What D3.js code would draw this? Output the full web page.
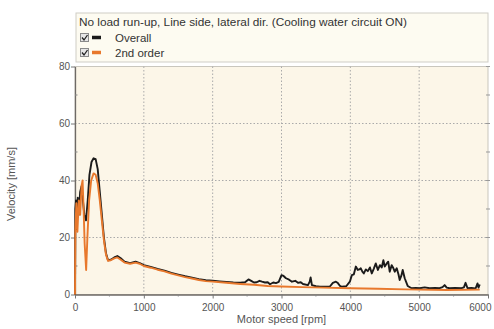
<!DOCTYPE html>
<html>
<head>
<meta charset="utf-8">
<script src="https://cdn.jsdelivr.net/npm/d3@7"></script>
<style>
  body { margin: 0; background: #fff; }
  svg { display: block; font-family: "Liberation Sans", Arial, sans-serif; }
</style>
</head>
<body>
<svg id="chart" width="494" height="329"></svg>
<script>
// Chart data
const legendTitle = "No load run-up, Line side, lateral dir. (Cooling water circuit ON)";
const seriesNames = ["Overall", "2nd order"];
const seriesColors = ["#1b1b1b", "#e8782c"];
const xTicks = [0, 1000, 2000, 3000, 4000, 5000, 6000];
const yTicks = [0, 20, 40, 60, 80];

// Overall: [rpm, mm/s]
const overall = [
  [0, 0], [5, 30], [15, 33], [25, 23], [40, 34], [55, 28], [75, 36], [95, 38], [115, 33],
  [135, 28], [160, 26], [185, 33], [210, 42], [240, 46.5], [270, 47.8], [300, 47.5],
  [330, 44], [360, 36], [390, 28], [420, 20], [450, 14.5], [480, 12], [520, 12.2],
  [570, 13], [615, 13.5], [660, 12.8], [720, 11.5], [800, 11], [880, 11.5], [940, 11],
  [1000, 10.3], [1100, 9.7], [1200, 9], [1300, 8.4], [1400, 7.6], [1500, 7], [1600, 6.4],
  [1700, 5.9], [1800, 5.4], [1900, 5], [2000, 4.8], [2100, 4.6], [2200, 4.4], [2300, 4.2],
  [2400, 4.1], [2470, 4.3], [2520, 5.3], [2560, 4.8], [2600, 4.2], [2640, 4.3], [2680, 4.8],
  [2717, 4.5], [2760, 4.2], [2800, 4.3], [2833, 3.6], [2880, 4.2], [2920, 4], [2960, 4.4],
  [3000, 6.8], [3030, 6.5], [3065, 5.7], [3110, 5.2], [3152, 4.5], [3200, 4.8], [3239, 4.1],
  [3280, 4.3], [3312, 3.7], [3384, 3.3], [3410, 4.5], [3423, 6.0], [3442, 3.3], [3500, 2.9],
  [3558, 2.7], [3650, 2.7], [3703, 2.8], [3746, 4.1], [3790, 4.5], [3819, 4.0], [3850, 3.0],
  [3877, 2.7], [3940, 2.9], [3993, 4.5], [4022, 6.8], [4051, 7.1], [4080, 9.8], [4109, 8.6],
  [4130, 8.8], [4152, 9.2], [4175, 8.0], [4196, 7.4], [4225, 8.8], [4254, 8.2], [4285, 9.5],
  [4312, 7.4], [4340, 9], [4370, 10.9], [4400, 8.6], [4430, 10.3], [4456, 9.5], [4480, 12],
  [4500, 9.8], [4529, 10.9], [4550, 11.5], [4572, 8], [4601, 10.3], [4620, 9.5], [4645, 8],
  [4674, 9.2], [4700, 7], [4717, 5.1], [4740, 6.5], [4761, 8.6], [4790, 5.7], [4833, 3.0],
  [4891, 2.2], [4950, 2.3], [5007, 2.2], [5080, 2.5], [5152, 2.2], [5230, 2.3], [5297, 2.2],
  [5340, 2.6], [5370, 3.3], [5400, 2.4], [5442, 2.2], [5520, 2.3], [5616, 2.2], [5650, 2.5],
  [5674, 4.1], [5703, 2.2], [5760, 2.3], [5819, 2.1], [5848, 3.9], [5862, 2.4], [5880, 3.5]
];

// 2nd order: [rpm, mm/s]
const order2 = [
  [0, 0], [5, 23], [20, 32], [35, 22], [55, 33], [75, 28], [95, 38], [110, 40], [125, 30],
  [140, 18], [162, 8.6], [180, 20], [205, 33], [235, 40], [270, 42.5], [300, 42], [330, 39],
  [360, 33], [390, 26], [420, 19], [450, 14], [480, 11.8], [520, 12], [570, 12.7], [615, 13],
  [660, 12.3], [720, 11.2], [800, 10.8], [880, 11.2], [940, 10.8], [1000, 10], [1100, 9.4],
  [1200, 8.7], [1300, 8.1], [1400, 7.3], [1500, 6.7], [1600, 6.1], [1700, 5.6], [1800, 5.1],
  [1900, 4.7], [2000, 4.5], [2200, 4.1], [2400, 3.7], [2600, 3.4], [2800, 3.0], [3000, 2.8],
  [3300, 2.6], [3600, 2.4], [4000, 2.2], [4400, 2.0], [4800, 1.8], [5000, 1.7], [5400, 1.6],
  [5880, 1.7]
];

const svg = d3.select("#chart");
const plotLeft = 75, plotRight = 488, plotTop = 66.5, plotBottom = 294.5;

const x = d3.scaleLinear().domain([0, 6000]).range([plotLeft, plotRight]);
const y = d3.scaleLinear().domain([0, 80]).range([plotBottom, plotTop]);

// Plot background
svg.append("rect")
  .attr("x", plotLeft).attr("y", plotTop)
  .attr("width", plotRight - plotLeft).attr("height", plotBottom - plotTop)
  .attr("fill", "#fcf6e8")
  .attr("stroke", "#c9c6bd");

// Grid lines (dotted)
svg.append("g")
  .selectAll("line")
  .data(xTicks.slice(1, -1))
  .join("line")
  .attr("x1", d => x(d)).attr("x2", d => x(d))
  .attr("y1", plotTop).attr("y2", plotBottom)
  .attr("stroke", "#aaa")
  .attr("stroke-dasharray", "1.5,2");

svg.append("g")
  .selectAll("line")
  .data(yTicks.slice(1, -1))
  .join("line")
  .attr("x1", plotLeft).attr("x2", plotRight)
  .attr("y1", d => y(d)).attr("y2", d => y(d))
  .attr("stroke", "#aaa")
  .attr("stroke-dasharray", "1.5,2");

// Axes
const xAxis = svg.append("g")
  .attr("transform", `translate(0,${plotBottom})`)
  .call(d3.axisBottom(x).tickValues(xTicks).tickSize(4).tickSizeOuter(0).tickFormat(d3.format("d")));
const yAxis = svg.append("g")
  .attr("transform", `translate(${plotLeft},0)`)
  .call(d3.axisLeft(y).tickValues(yTicks).tickSize(4).tickSizeOuter(0));

[xAxis, yAxis].forEach(a => {
  a.select(".domain").attr("stroke", "#6e6a66").attr("stroke-width", 1.3);
  a.selectAll(".tick line").attr("stroke", "#777");
  a.selectAll(".tick text").attr("fill", "#555").style("font-size", "10px");
});
xAxis.selectAll(".tick text").attr("dy", "0.95em");
// last label kept inside the picture, as in the original
xAxis.selectAll(".tick text").filter(d => d === 6000)
  .attr("text-anchor", "end").attr("x", 3);
yAxis.selectAll(".tick text").attr("x", -5);

// Minor ticks
svg.append("g")
  .selectAll("line")
  .data(d3.range(500, 6000, 1000))
  .join("line")
  .attr("x1", d => x(d)).attr("x2", d => x(d))
  .attr("y1", plotBottom).attr("y2", plotBottom + 2)
  .attr("stroke", "#888");
svg.append("g")
  .selectAll("line")
  .data(d3.range(10, 80, 20))
  .join("line")
  .attr("x1", plotLeft).attr("x2", plotLeft + 2.5)
  .attr("y1", d => y(d)).attr("y2", d => y(d))
  .attr("stroke", "#888");
svg.append("g")
  .selectAll("line")
  .data(d3.range(10, 81, 10))
  .join("line")
  .attr("x1", plotRight - 2).attr("x2", plotRight + 2)
  .attr("y1", d => y(d)).attr("y2", d => y(d))
  .attr("stroke", "#999");

// Lines
const line = d3.line().x(d => x(d[0])).y(d => y(d[1]));
svg.append("path")
  .datum(overall)
  .attr("fill", "none")
  .attr("stroke", seriesColors[0])
  .attr("stroke-width", 1.9)
  .attr("stroke-linejoin", "round")
  .attr("d", line);
svg.append("path")
  .datum(order2)
  .attr("fill", "none")
  .attr("stroke", seriesColors[1])
  .attr("stroke-width", 1.9)
  .attr("stroke-linejoin", "round")
  .attr("d", line);

// Axis titles
svg.append("text")
  .attr("x", (plotLeft + plotRight) / 2).attr("y", 323)
  .attr("text-anchor", "middle")
  .attr("fill", "#555")
  .style("font-size", "11px")
  .text("Motor speed [rpm]");
svg.append("text")
  .attr("transform", "translate(15,184) rotate(-90)")
  .attr("text-anchor", "middle")
  .attr("fill", "#555")
  .style("font-size", "11px")
  .text("Velocity [mm/s]");

// Legend box
const legend = svg.append("g");
legend.append("rect")
  .attr("x", 76).attr("y", 13)
  .attr("width", 412).attr("height", 49)
  .attr("fill", "#fdfbf1")
  .attr("stroke", "#cfcdc6");
legend.append("text")
  .attr("x", 79).attr("y", 26)
  .attr("fill", "#333")
  .style("font-size", "11.8px")
  .text(legendTitle);

const rows = legend.selectAll("g.row")
  .data(seriesNames)
  .join("g")
  .attr("class", "row")
  .attr("transform", (d, i) => `translate(0,${37.5 + i * 15})`);
rows.append("rect")
  .attr("x", 80.5).attr("y", -4)
  .attr("width", 8).attr("height", 8)
  .attr("fill", "#e6e6e6")
  .attr("stroke", "#8a8a8a");
rows.append("path")
  .attr("d", "M82,0 L84,2.5 L87.5,-2.5")
  .attr("fill", "none")
  .attr("stroke", "#222")
  .attr("stroke-width", 1.3);
rows.append("line")
  .attr("x1", 92).attr("x2", 101)
  .attr("stroke", (d, i) => seriesColors[i])
  .attr("stroke-width", 3.5);
rows.append("text")
  .attr("x", 115).attr("y", 4)
  .attr("fill", "#333")
  .style("font-size", "11.5px")
  .text(d => d);
</script>
</body>
</html>
